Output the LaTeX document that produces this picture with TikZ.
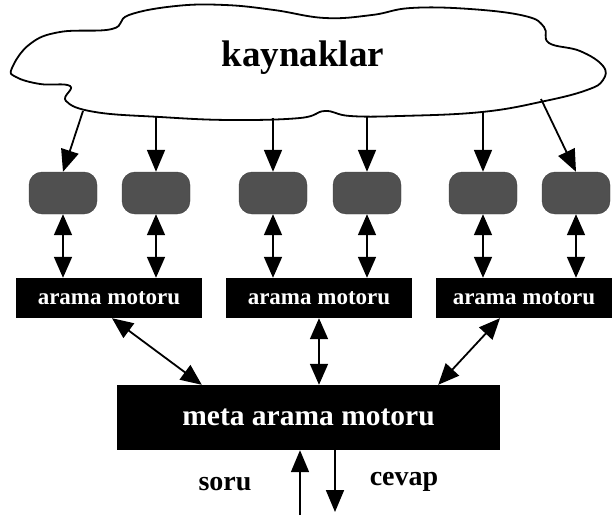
\documentclass[tikz,border=0pt]{standalone}
\usepackage{fontspec}
\setmainfont{Liberation Serif}
\usetikzlibrary{arrows.meta}
\definecolor{kutugri}{RGB}{80,80,80}
\tikzset{
  kaynak/.style={draw=kutugri!80!black,fill=kutugri,rounded corners=13pt,minimum width=68pt,minimum height=42pt,inner sep=0pt},
  motor/.style={fill=black,text=white,font=\bfseries\fontsize{23}{26}\selectfont,minimum height=40pt,inner sep=0pt},
  ok/.style={line width=1.8pt,-{Triangle[length=22pt,width=18pt]}},
  ciftok/.style={line width=1.8pt,{Triangle[length=21pt,width=18pt]}-{Triangle[length=21pt,width=18pt]}}
}
\begin{document}
\begin{tikzpicture}[x=1pt,y=-1pt]
\useasboundingbox (0,0) rectangle (614,519);
% bulut
\draw[line width=1.8pt,fill=white] plot[smooth cycle,tension=0.7] coordinates {
  (12,68) (30,44) (60,32) (112,29) (129,15) (176,6) (225,5) (274,10) (325,18)
  (372,15) (411,8) (470,9) (525,16) (544,27) (549,43) (580,51) (603,66)
  (603,80) (587,90) (545,101) (482,112) (400,116) (350,116) (325,111)
  (300,118) (230,120) (160,117) (95,112) (66,101) (70,86) (40,84) (16,77)};
\node[font=\bfseries\fontsize{37}{40}\selectfont] (bulut) at (303,58) {kaynaklar};
\coordinate (c1) at (83,111);
\coordinate (c2) at (156,117);
\coordinate (c3) at (273,118);
\coordinate (c4) at (367,117);
\coordinate (c5) at (483,111);
\coordinate (c6) at (541,99);
% kaynak kutulari
\node[kaynak] (s1) at (63,193) {};
\node[kaynak] (s2) at (156,193) {};
\node[kaynak] (s3) at (273,193) {};
\node[kaynak] (s4) at (367,193) {};
\node[kaynak] (s5) at (483,193) {};
\node[kaynak] (s6) at (576,193) {};
% arama motorlari
\node[motor,minimum width=186pt] (m1) at (109,298) {arama motoru};
\node[motor,minimum width=186pt] (m2) at (319,298) {arama motoru};
\node[motor,minimum width=176pt] (m3) at (524,298) {arama motoru};
\node[motor,minimum width=383pt,minimum height=65pt,font=\bfseries\fontsize{29.5}{32}\selectfont] (meta) at (308.5,417.5) {meta arama motoru};
% oklar
\draw[ok] (c1) -- (s1.north);
\draw[ok] (c2) -- (s2.north);
\draw[ok] (c3) -- (s3.north);
\draw[ok] (c4) -- (s4.north);
\draw[ok] (c5) -- (s5.north);
\draw[ok] (c6) -- (s6.north);
\draw[ciftok] (s1.south) -- (s1.south |- m1.north);
\draw[ciftok] (s2.south) -- (s2.south |- m1.north);
\draw[ciftok] (s3.south) -- (s3.south |- m2.north);
\draw[ciftok] (s4.south) -- (s4.south |- m2.north);
\draw[ciftok] (s5.south) -- (s5.south |- m3.north);
\draw[ciftok] (s6.south) -- (s6.south |- m3.north);
\draw[ciftok] ([xshift=3pt]m1.south) -- ([xshift=85pt]meta.north west);
\draw[ciftok] (m2.south) -- (m2.south |- meta.north);
\draw[ciftok] ([xshift=-24pt]m3.south) -- ([xshift=-62pt]meta.north east);
% soru / cevap
\coordinate (q1) at (300,515);
\coordinate (q2) at (335,512);
\draw[ok] (q1) -- (q1 |- meta.south);
\draw[ok] (q2 |- meta.south) -- (q2);
\node[font=\bfseries\fontsize{28}{30}\selectfont] (soru) at (225,484) {soru};
\node[font=\bfseries\fontsize{28}{30}\selectfont] (cevap) at (404,482) {cevap};
\end{tikzpicture}
\end{document}
